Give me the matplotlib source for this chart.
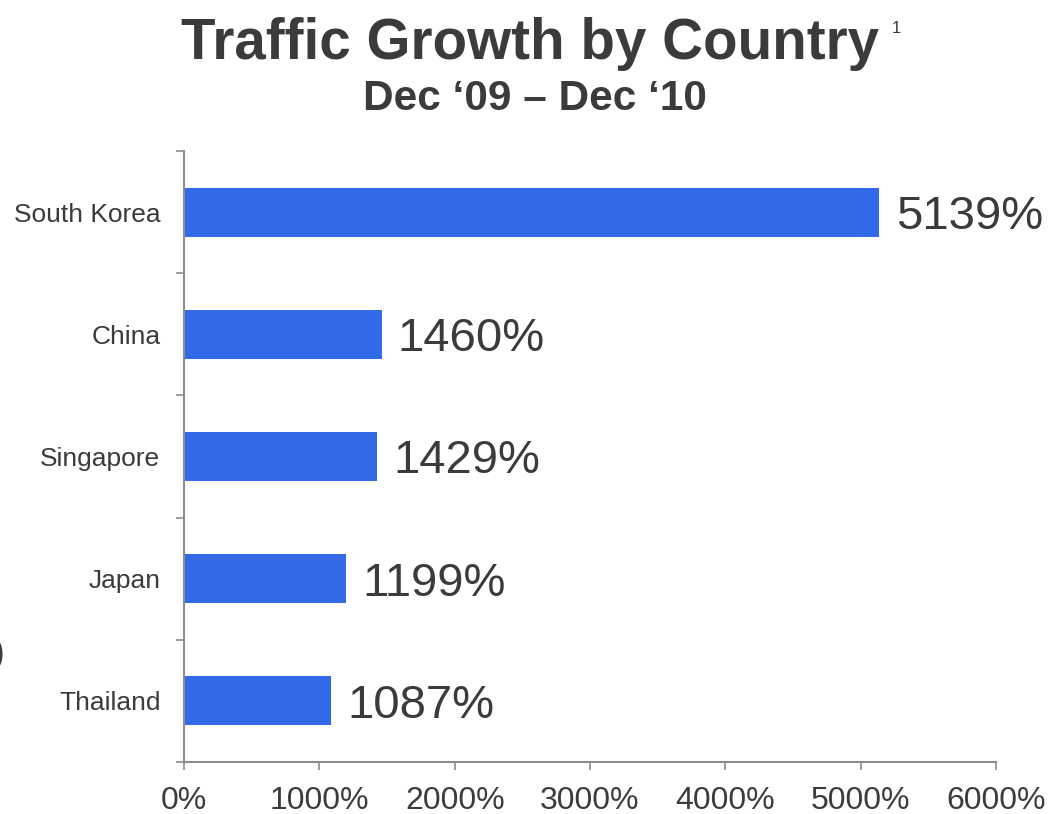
import matplotlib.pyplot as plt
from matplotlib.ticker import FixedLocator

countries = ["South Korea", "China", "Singapore", "Japan", "Thailand"]
growth = [5139, 1460, 1429, 1199, 1087]
xticks = [0, 1000, 2000, 3000, 4000, 5000, 6000]

plt.rcParams['font.family'] = ['Liberation Sans', 'DejaVu Sans']
text_col = "#3b3b3b"
axis_col = "#8c8c8c"

fig = plt.figure(figsize=(10.48, 8.14), dpi=100)
ax = fig.add_axes([0.1756, 0.0639, 0.7748, 0.7506])

pos = list(range(len(countries)))
ax.barh(pos, growth, height=0.4, color="#3169e7")

# value labels to the right of each bar
for y, v in zip(pos, growth):
    ax.text(v + 120, y, f"{v}%", va="center_baseline", ha="left", fontsize=34, color=text_col)

ax.set_xlim(0, 6000)
ax.set_ylim(len(countries) - 0.5, -0.5)

ax.set_yticks(pos)
ax.set_yticklabels(countries, fontsize=19)
ax.yaxis.set_minor_locator(FixedLocator([i - 0.5 for i in range(len(countries) + 1)]))
ax.tick_params(axis="y", which="major", length=0, pad=17, labelcolor=text_col)
ax.tick_params(axis="y", which="minor", length=6, width=1.2, color=axis_col, direction="out")

ax.set_xticks(xticks)
ax.set_xticklabels([f"{t}%" for t in xticks], fontsize=23)
ax.tick_params(axis="x", length=6, width=1.2, color=axis_col, pad=11, labelcolor=text_col)

for s in ["top", "right"]:
    ax.spines[s].set_visible(False)
for s in ["left", "bottom"]:
    ax.spines[s].set_color(axis_col)
    ax.spines[s].set_linewidth(1.5)

fig.text(0.5057, 0.928, "Traffic Growth by Country", ha="center", va="baseline",
         fontsize=40.7, fontweight="bold", color=text_col)
fig.text(0.851, 0.96, "1", ha="left", va="baseline", fontsize=12, color=text_col)
fig.text(0.51, 0.865, "Dec \u201809 \u2013 Dec \u201810", ha="center", va="baseline",
         fontsize=30.5, fontweight="bold", color=text_col)

# clipped bracket at the left edge
fig.text(-0.0075, 0.184, ")", ha="left", va="baseline", fontsize=28, color=text_col)

fig.savefig("out.png", dpi=100)
